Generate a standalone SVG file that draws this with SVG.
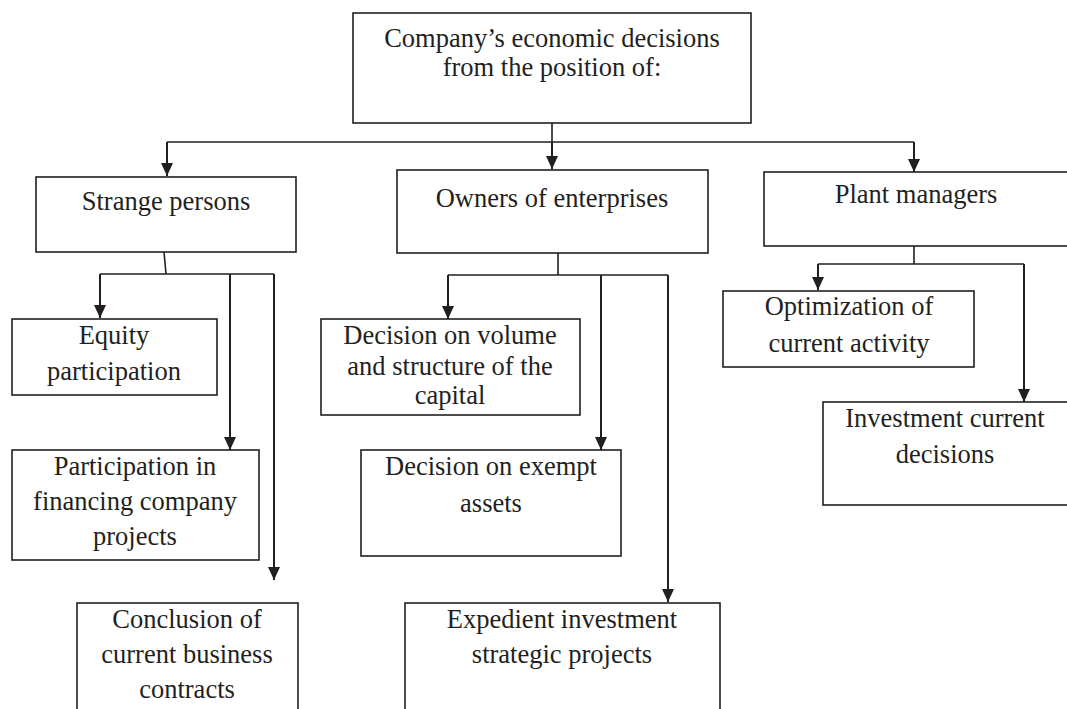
<svg xmlns="http://www.w3.org/2000/svg" width="1067" height="709" viewBox="0 0 1067 709">
<style>
.box{fill:#ffffff;stroke:#231f20;stroke-width:1.6}
.t{font-family:"Liberation Serif","Times New Roman",serif;font-size:26.5px;fill:#231f20;text-anchor:middle}
.c{fill:none;stroke:#231f20;stroke-width:1.6}
.a{fill:none;stroke:#231f20;stroke-width:2;marker-end:url(#ah)}
</style>
<defs>
<marker id="ah" viewBox="0 0 13 12" refX="13" refY="6" markerWidth="13" markerHeight="12" markerUnits="userSpaceOnUse" orient="auto">
<path d="M0,0 L13,6 L0,12 z" fill="#231f20"/>
</marker>
</defs>
<rect width="1067" height="709" fill="#ffffff"/>
<g id="connectors">
<path class="c" d="M552,123 V142 M167,142 H914"/>
<path class="a" d="M167,142 V176"/>
<path class="a" d="M552,142 V169"/>
<path class="a" d="M914,142 V172"/>
<path class="c" d="M164,252 L166,274 M100,274 H274"/>
<path class="a" d="M100,274 V318"/>
<path class="a" d="M230,274 V450"/>
<path class="a" d="M274,274 V580"/>
<path class="c" d="M558,253 V275 M448,275 H668"/>
<path class="a" d="M448,275 V319"/>
<path class="a" d="M601,275 V450"/>
<path class="a" d="M668,275 V602"/>
<path class="c" d="M914,246 V264 M818,264 H1024"/>
<path class="a" d="M818,264 V290"/>
<path class="a" d="M1024,264 V402"/>
</g>
<g id="root">
<rect class="box" x="353" y="13" width="398" height="110"/>
<text class="t" x="552" y="47">Company’s economic decisions</text>
<text class="t" x="552" y="76">from the position of:</text>
</g>
<g id="strange">
<rect class="box" x="36" y="177" width="260" height="75"/>
<text class="t" x="166" y="210">Strange persons</text>
</g>
<g id="owners">
<rect class="box" x="397" y="170" width="311" height="83"/>
<text class="t" x="552" y="207">Owners of enterprises</text>
</g>
<g id="plant">
<rect class="box" x="764" y="172" width="310" height="74"/>
<text class="t" x="916" y="203">Plant managers</text>
</g>
<g id="equity">
<rect class="box" x="12" y="319" width="205" height="76"/>
<text class="t" x="114" y="344">Equity</text>
<text class="t" x="114" y="380">participation</text>
</g>
<g id="financing">
<rect class="box" x="12" y="450" width="247" height="110"/>
<text class="t" x="135" y="475">Participation in</text>
<text class="t" x="135" y="510">financing company</text>
<text class="t" x="135" y="545">projects</text>
</g>
<g id="contracts">
<rect class="box" x="77" y="603" width="221" height="115"/>
<text class="t" x="187" y="628">Conclusion of</text>
<text class="t" x="187" y="663">current business</text>
<text class="t" x="187" y="698">contracts</text>
</g>
<g id="capital">
<rect class="box" x="321" y="319" width="259" height="96"/>
<text class="t" x="450" y="344">Decision on volume</text>
<text class="t" x="450" y="375">and structure of the</text>
<text class="t" x="450" y="404">capital</text>
</g>
<g id="exempt">
<rect class="box" x="361" y="450" width="260" height="106"/>
<text class="t" x="491" y="475">Decision on exempt</text>
<text class="t" x="491" y="512">assets</text>
</g>
<g id="expedient">
<rect class="box" x="405" y="603" width="315" height="115"/>
<text class="t" x="562" y="628">Expedient investment</text>
<text class="t" x="562" y="663">strategic projects</text>
</g>
<g id="optimization">
<rect class="box" x="723" y="291" width="251" height="76"/>
<text class="t" x="849" y="315">Optimization of</text>
<text class="t" x="849" y="352">current activity</text>
</g>
<g id="investment">
<rect class="box" x="823" y="402" width="250" height="103"/>
<text class="t" x="945" y="427">Investment current</text>
<text class="t" x="945" y="463">decisions</text>
</g>
</svg>
